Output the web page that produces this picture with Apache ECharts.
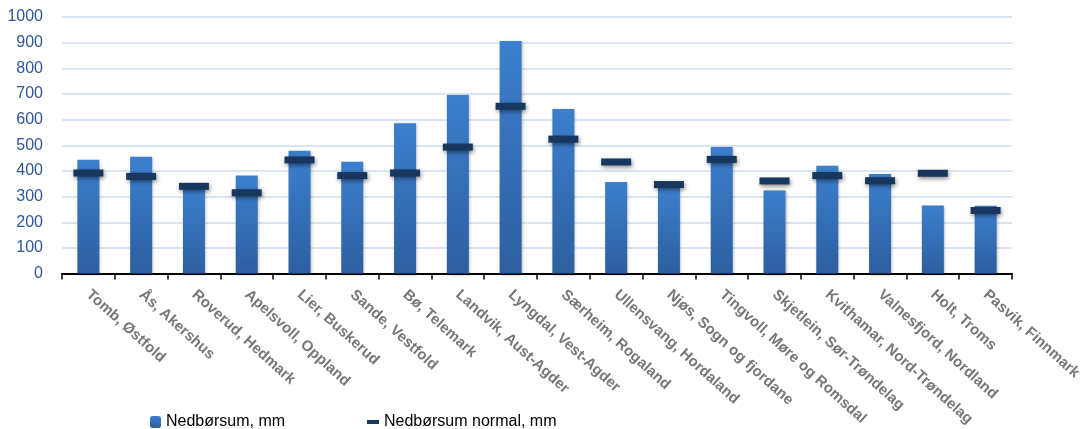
<!DOCTYPE html>
<html>
<head>
<meta charset="utf-8">
<script src="https://cdn.jsdelivr.net/npm/echarts@6/dist/echarts.min.js"></script>
<style>html,body{margin:0;padding:0;background:#fff}#c{width:1086px;height:429px}</style>
</head>
<body>
<div id="c"></div>
<script>
const categories = ["Tomb, Østfold","Ås, Akershus","Roverud, Hedmark","Apelsvoll, Oppland","Lier, Buskerud","Sande, Vestfold","Bø, Telemark","Landvik, Aust-Agder","Lyngdal, Vest-Agder","Særheim, Rogaland","Ullensvang, Hordaland","Njøs, Sogn og fjordane","Tingvoll, Møre og Romsdal","Skjetlein, Sør-Trøndelag","Kvithamar, Nord-Trøndelag","Valnesfjord, Nordland","Holt, Troms","Pasvik, Finnmark"];
const nedborsum = [444, 455, 330, 382, 479, 436, 586, 696, 906, 641, 357, 335, 493, 324, 420, 388, 265, 264];
const normal = [392, 379, 340, 315, 443, 382, 392, 493, 652, 524, 435, 347, 445, 361, 382, 362, 391, 246];
const seriesNames = ["Nedbørsum, mm", "Nedbørsum normal, mm"];

const chart = echarts.init(document.getElementById('c'), null, {renderer:'canvas'});
chart.setOption({
  animation:false,
  backgroundColor:'#fff',
  grid:{left:62, right:74, top:17, bottom:155, containLabel:false},
  legend:[
    {data:[seriesNames[0]], left:145, top:409, itemWidth:11, itemHeight:12, itemGap:6,
     textStyle:{fontFamily:'Liberation Sans', fontSize:16, color:'#000'}},
    {data:[{name:seriesNames[1], icon:'rect'}], left:362, top:409, itemWidth:12, itemHeight:4, itemGap:6,
     textStyle:{fontFamily:'Liberation Sans', fontSize:16, color:'#000'}}
  ],
  xAxis:{
    type:'category', data:categories,
    axisLine:{lineStyle:{color:'#000', width:2}},
    axisTick:{show:true, length:6, lineStyle:{color:'#000', width:1.5}},
    axisLabel:{rotate:-42, interval:0, margin:19, color:'#777', fontFamily:'Liberation Sans', fontWeight:'bold', fontSize:15}
  },
  yAxis:{
    type:'value', min:0, max:1000, interval:100,
    axisLine:{show:false}, axisTick:{show:false},
    axisLabel:{color:'#2f5597', fontFamily:'Liberation Sans', fontSize:16, margin:19, formatter:function(v){return String(v);}},
    splitLine:{lineStyle:{color:'#dae5f3', width:2}}
  },
  series:[
    {name:seriesNames[0], type:'bar', data:nedborsum, barWidth:22, z:2,
     itemStyle:{
       color:new echarts.graphic.LinearGradient(0,0,0,1,[{offset:0,color:'#3b7fce'},{offset:1,color:'#2d5f9f'}]),
       shadowColor:'rgba(0,0,0,0.3)', shadowBlur:3, shadowOffsetX:1, shadowOffsetY:1
     }},
    {name:seriesNames[1], type:'scatter', data:normal, symbol:'rect', symbolSize:[30,7], z:3,
     itemStyle:{color:'#17375e', opacity:1, shadowColor:'rgba(0,0,0,0.45)', shadowBlur:4, shadowOffsetX:1, shadowOffsetY:2}}
  ]
});
</script>
</body>
</html>
